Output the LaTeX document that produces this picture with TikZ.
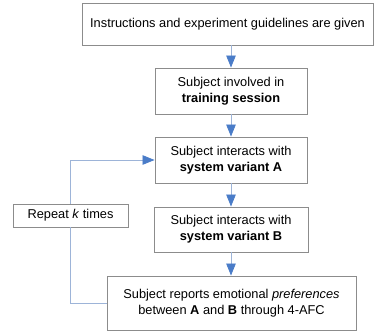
\documentclass[tikz,border=0pt]{standalone}
\usepackage{fontspec}
\setmainfont{Liberation Sans}
\usetikzlibrary{arrows.meta}
\definecolor{lineblue}{HTML}{9DB4D8}
\definecolor{tipblue}{HTML}{4A7CC8}
\definecolor{boxgray}{HTML}{8C8C8C}
\tikzset{
  box/.style={draw=boxgray, line width=0.9pt, fill=white, inner sep=0pt, align=center,
    font=\fontsize{12.8}{16}\selectfont},
  flow/.style={draw=lineblue, line width=0.8pt,
    -{Triangle[length=12pt,width=9.5pt,color=tipblue]}},
  loopline/.style={draw=lineblue, line width=0.8pt}
}
\begin{document}
\begin{tikzpicture}[x=1pt,y=-1pt]
\useasboundingbox (0,0) rectangle (375,334);
\node[box, minimum width=291pt, minimum height=42pt] (b1) at (227.5,24) {Instructions and experiment guidelines are given};
\node[box, minimum width=152pt, minimum height=46pt] (b2) at (231,91) {Subject involved in\\\textbf{training session}};
\node[box, minimum width=152pt, minimum height=46pt] (b3) at (231,160) {Subject interacts with\\\textbf{system variant A}};
\node[box, minimum width=115pt, minimum height=23pt] (rep) at (70.5,215.5) {Repeat \textit{k} times};
\node[box, minimum width=154pt, minimum height=45pt] (b4) at (231,229.5) {Subject interacts with\\\textbf{system variant B}};
\node[box, minimum width=249pt, minimum height=54pt] (b5) at (231.5,303) {Subject reports emotional \textit{preferences}\\between \textbf{A} and \textbf{B} through 4-AFC};
\draw[flow] (b1.south -| b2.north) -- (b2.north);
\draw[flow] (b2) -- (b3);
\draw[flow] (b3) -- (b4);
\draw[flow] (b4.south) -- (b4.south |- b5.north);
\draw[loopline] (b5.west) -| (rep.south);
\draw[flow] (rep.north) |- (b3.west);
\end{tikzpicture}
\end{document}
